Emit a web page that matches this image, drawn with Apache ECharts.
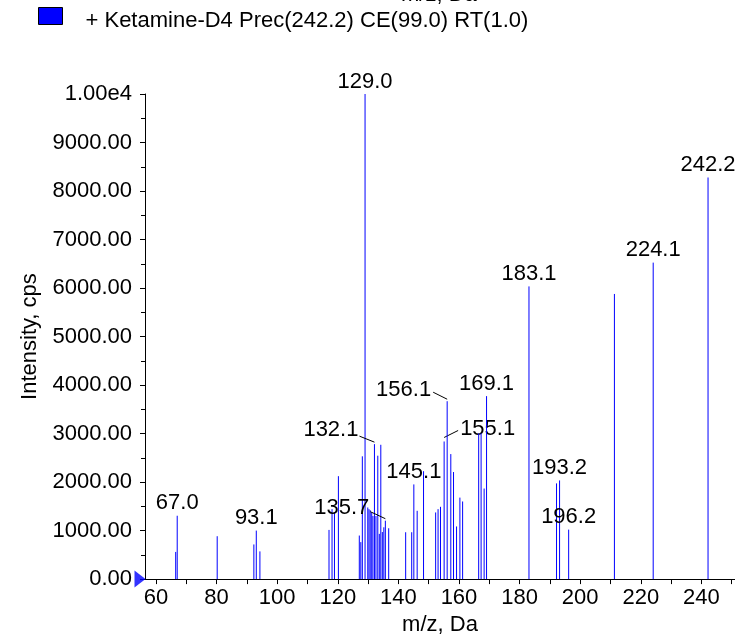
<!DOCTYPE html>
<html><head><meta charset="utf-8">
<script src="https://cdn.jsdelivr.net/npm/echarts@6/dist/echarts.min.js"></script>
<style>html,body{margin:0;padding:0;background:#fff}#c{width:735px;height:641px}</style>
</head><body><div id="c"></div>
<script>
const seriesName = '+ Ketamine-D4 Prec(242.2) CE(99.0) RT(1.0)';
const xAxisTitle = 'm/z, Da';
const yAxisTitle = 'Intensity, cps';
const mz = [66.5, 67.0, 80.2, 92.3, 93.1, 94.3,
  117.1, 118.1, 118.9, 120.2,
  127.1, 127.6, 128.1, 129.0, 129.9, 130.3, 130.7, 131.2, 131.6, 132.1, 132.6, 133.2, 133.7, 134.2, 134.7, 135.2, 135.7, 136.8,
  142.4, 144.4, 145.1, 146.2, 148.3,
  152.3, 153.1, 153.9, 155.1, 156.1, 157.3, 158.2, 159.2, 160.3, 161.2,
  166.5, 167.3, 168.3, 169.1,
  183.1, 192.2, 193.2, 196.2, 211.3, 224.1, 242.2];
const intensity = [560, 1306, 884, 714, 1000, 571,
  1014, 1442, 1374, 2122,
  898, 762, 2531, 10000, 1476, 1442, 1420, 1374, 1300, 2782, 1300, 2544, 932, 2769, 970, 1068, 1204, 1048,
  966, 966, 1952, 1408, 2224,
  1374, 1442, 1490, 2837, 3667, 2577, 2207, 1085, 1680, 1600,
  3005, 3005, 1867, 3772,
  6034, 1973, 2034, 1020, 5878, 6524, 8279];
const labelledPeaks = ['67.0', '93.1', '129.0', '132.1', '135.7', '145.1', '155.1', '156.1', '169.1', '183.1', '193.2', '196.2', '224.1', '242.2'];
const xTickValues = [60, 70, 80, 90, 100, 110, 120, 130, 140, 150, 160, 170, 180, 190, 200, 210, 220, 230, 240, 250];
const xTickLabels = [60, 80, 100, 120, 140, 160, 180, 200, 220, 240];
const yTickLabels = ['0.00', '1000.00', '2000.00', '3000.00', '4000.00', '5000.00', '6000.00', '7000.00', '8000.00', '9000.00', '1.00e4'];

const FONT = '"Liberation Sans", Arial, sans-serif';
const FS = 22;
const BLUE = '#0000ff';
// label placement (pixel offsets from bar top), with optional leader line
const labelPlacement = {
  '132.1': {dx: -16, dy: -14, align: 'right', line: [-15, -8, 0, -2]},
  '135.7': {dx: -16, dy: -13, align: 'right', line: [-15, -9, 0, -2]},
  '156.1': {dx: -16, dy: -11, align: 'right', line: [-14, -9, 0, -2]},
  '155.1': {dx: 16, dy: -13, align: 'left', line: [0, -4, 14, -11]}
};
const data = mz.map((m, i) => [m, intensity[i]]);
const xMin = 56.37, xMax = 251.1;

const chart = echarts.init(document.getElementById('c'), null, {renderer: 'canvas'});
chart.setOption({
  animation: false,
  backgroundColor: '#fff',
  title: {text: xAxisTitle, left: 401, top: -16, padding: 0, textStyle: {fontSize: FS, fontWeight: 'normal', fontFamily: FONT, color: '#000'}},
  legend: {
    data: [seriesName], left: 38, top: 7, padding: 0, itemWidth: 24, itemHeight: 17, icon: 'rect',
    itemStyle: {borderColor: '#000', borderWidth: 1},
    formatter: '{t|{name}}',
    textStyle: {fontSize: FS, fontFamily: FONT, color: '#000',
      rich: {t: {fontSize: FS, fontFamily: FONT, color: '#000', padding: [10, 0, 0, 18]}}}
  },
  grid: {left: 145, right: 0, top: 94, bottom: 57, containLabel: false},
  xAxis: {
    type: 'value', min: xMin, max: xMax,
    name: xAxisTitle, nameLocation: 'middle', nameGap: 32,
    nameTextStyle: {fontSize: FS, fontFamily: FONT, color: '#000'},
    axisLine: {show: true, lineStyle: {color: '#000', width: 1}},
    axisTick: {show: true, customValues: xTickValues, length: 5, lineStyle: {color: '#000'}},
    axisLabel: {customValues: xTickLabels, fontSize: FS, fontFamily: FONT, color: '#000', margin: 8},
    splitLine: {show: false}
  },
  yAxis: {
    type: 'value', min: 0, max: 10000, interval: 1000,
    name: yAxisTitle, nameLocation: 'middle', nameGap: 104,
    nameTextStyle: {fontSize: FS, fontFamily: FONT, color: '#000'},
    axisLine: {show: true, lineStyle: {color: '#000', width: 1}},
    axisTick: {show: true, length: 5, lineStyle: {color: '#000'}},
    minorTick: {show: true, splitNumber: 2, length: 4, lineStyle: {color: '#000'}},
    axisLabel: {fontSize: FS, fontFamily: FONT, color: '#000', margin: 13,
      formatter: v => yTickLabels[Math.round(v / 1000)]},
    splitLine: {show: false}
  },
  series: [{
    name: seriesName, type: 'custom', color: BLUE, itemStyle: {color: BLUE},
    data: data,
    renderItem: function (params, api) {
      const x = api.value(0), y = api.value(1);
      const top = api.coord([x, y]);
      const base = api.coord([x, 0]);
      const children = [{type: 'line', shape: {x1: top[0], y1: base[1], x2: top[0], y2: top[1]},
        style: {stroke: BLUE, lineWidth: 1}}];
      const key = x.toFixed(1);
      if (labelledPeaks.indexOf(key) >= 0) {
        const p = labelPlacement[key];
        if (p) {
          children.push({type: 'text', x: top[0] + p.dx, y: top[1] + p.dy,
            style: {text: key, font: FS + 'px ' + FONT, fill: '#000', align: p.align, verticalAlign: 'middle'}});
          children.push({type: 'line', shape: {x1: top[0] + p.line[0], y1: top[1] + p.line[1], x2: top[0] + p.line[2], y2: top[1] + p.line[3]},
            style: {stroke: '#000', lineWidth: 1}});
        } else {
          children.push({type: 'text', x: top[0], y: top[1] - 12.5,
            style: {text: key, font: FS + 'px ' + FONT, fill: '#000', align: 'center', verticalAlign: 'middle'}});
        }
      }
      return {type: 'group', children: children};
    }
  }, {
    type: 'scatter', silent: true, clip: false, z: 10,
    data: [[xMin, 0]], symbol: 'triangle', symbolSize: [17, 11], symbolRotate: -90, symbolOffset: [-5, 0],
    itemStyle: {color: BLUE}
  }]
});
</script></body></html>
